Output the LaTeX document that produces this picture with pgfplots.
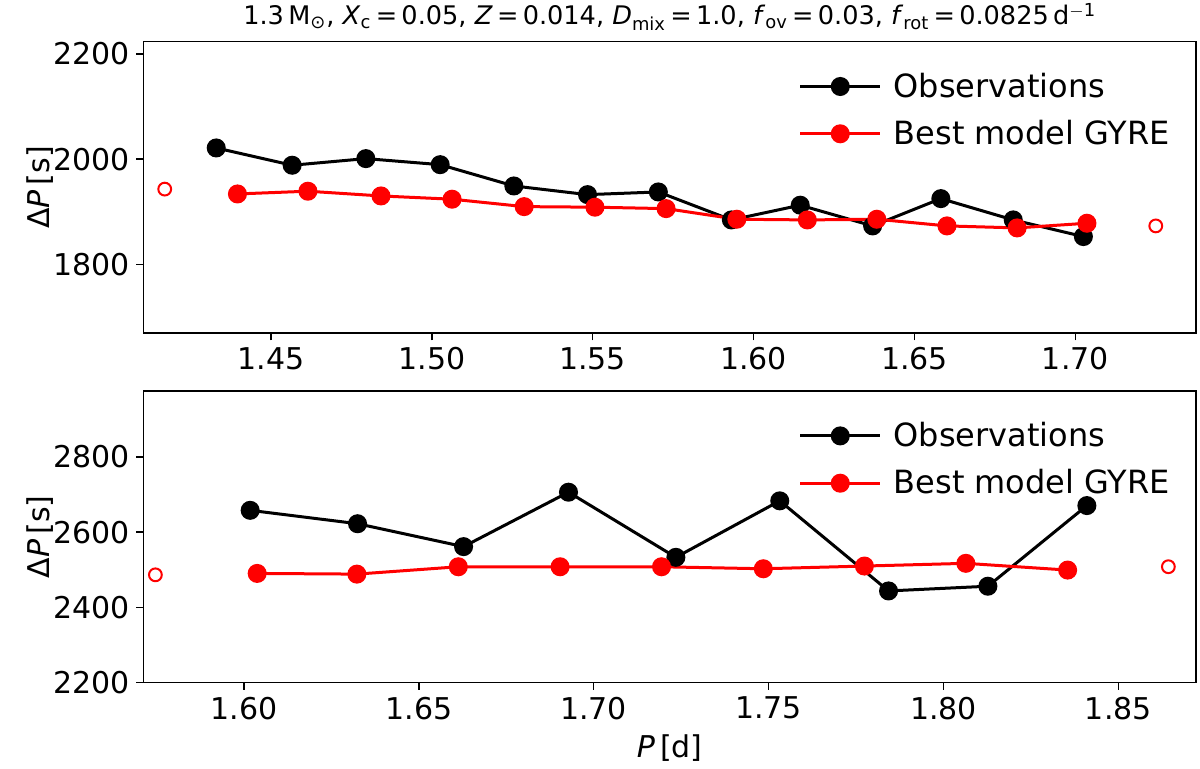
\documentclass[border=0pt]{standalone}
\usepackage{pgfplots}
\pgfplotsset{compat=1.18}
\usepackage{fontspec}
\setmainfont{DejaVu Sans}
\newcommand{\sub}[1]{\textsubscript{#1}}
\pgfplotsset{
  myax/.style={
    scale only axis, width=526.25pt, height=145.8pt, anchor=south west,
    axis line style={line width=0.8pt}, every tick/.style={line width=0.8pt, black},
    major tick length=3.5pt, tick align=outside, xtick pos=bottom, ytick pos=left,
    ticklabel style={font=\fontsize{15}{18}\selectfont},
    /pgf/number format/assume math mode=true,
    /pgf/number format/1000 sep={},
    scaled ticks=false,
    xticklabel style={/pgf/number format/.cd, fixed, fixed zerofill, precision=2},
    ylabel={Δ\textit{P}\,[s]},
    every axis y label/.style={at={(axis description cs:-0.0983,0.5)}, anchor=center, rotate=90, font=\fontsize{15}{18}\selectfont},
    legend style={draw=none, fill=none, font=\fontsize{16}{19}\selectfont,
      at={(axis description cs:0.985,0.922)}, anchor=north east, row sep=6pt,
      /tikz/every odd column/.append style={column sep=4pt}},
    legend cell align=left,
    legend image code/.code={\draw[##1, mark repeat=2, mark phase=2] plot coordinates {(0pt,0pt)(20pt,0pt)(40pt,0pt)};},
  },
  obs/.style={black, line width=1.5pt, mark=*, mark size=4pt, mark options={solid}},
  mod/.style={red, line width=1.5pt, mark=*, mark size=4pt, mark options={solid}},
  opn/.style={only marks, red, mark=o, mark size=3.2pt, mark options={line width=1pt}},
}
\begin{document}
\begin{tikzpicture}
\useasboundingbox (0pt,0pt) rectangle (600pt,384.5pt);
\begin{axis}[myax, at={(71.75pt,217.85pt)},
  xmin=1.4104, xmax=1.7375, ymin=1668.8, ymax=2223.4,
  xtick={1.45,1.50,1.55,1.60,1.65,1.70}, ytick={1800,2000,2200},
  title={1.3\,M\sub{⊙}, \textit{X}\sub{c}\,=\,0.05, \textit{Z}\,=\,0.014, \textit{D}\sub{mix}\,=\,1.0, \textit{f}\sub{ov}\,=\,0.03, \textit{f}\sub{rot}\,=\,0.0825\,d\textsuperscript{$-$1}},
  every axis title/.style={at={(axis description cs:0.5,1.086)}, anchor=center, font=\fontsize{12.8}{15}\selectfont},
]
\addplot[obs] coordinates {(1.4330,2021.3)(1.4566,1988.4)(1.4795,2001)(1.5026,1989.5)(1.5255,1949)(1.5484,1932.5)(1.5704,1937.6)(1.5931,1884.4)(1.6145,1912.4)(1.6370,1873)(1.6582,1924.9)(1.6807,1884.4)(1.7025,1852.7)};
\addlegendentry{Observations}
\addplot[mod] coordinates {(1.4396,1933.8)(1.4615,1939)(1.4842,1930)(1.5063,1923.8)(1.5287,1909.7)(1.5507,1908.6)(1.5728,1905.9)(1.5948,1885.7)(1.6167,1884.4)(1.6383,1885.7)(1.6601,1873)(1.6819,1869.2)(1.7036,1878.1)};
\addlegendentry{Best model GYRE}
\addplot[opn, forget plot] coordinates {(1.4170,1943)(1.7250,1873)};
\end{axis}
\begin{axis}[myax, at={(71.75pt,43.15pt)},
  xmin=1.5713, xmax=1.8722, ymin=2200, ymax=2974.5,
  xtick={1.60,1.65,1.70,1.75,1.80,1.85}, ytick={2200,2400,2600,2800},
  xlabel={\textit{P}\,[d]},
  every axis x label/.style={at={(axis description cs:0.5,-0.2228)}, anchor=center, font=\fontsize{15}{18}\selectfont},
]
\addplot[obs] coordinates {(1.6018,2657.8)(1.6325,2622.2)(1.6628,2561.4)(1.6928,2706)(1.7235,2533)(1.7532,2683)(1.7843,2443.7)(1.8127,2456.2)(1.8410,2670.4)};
\addlegendentry{Observations}
\addplot[mod] coordinates {(1.6038,2490.2)(1.6323,2488.4)(1.6613,2507.9)(1.6904,2507.9)(1.7194,2507.9)(1.7485,2502.6)(1.7774,2509.8)(1.8064,2517)(1.8355,2499.1)};
\addlegendentry{Best model GYRE}
\addplot[opn, forget plot] coordinates {(1.5747,2486.5)(1.8643,2508)};
\end{axis}
\end{tikzpicture}
\end{document}
